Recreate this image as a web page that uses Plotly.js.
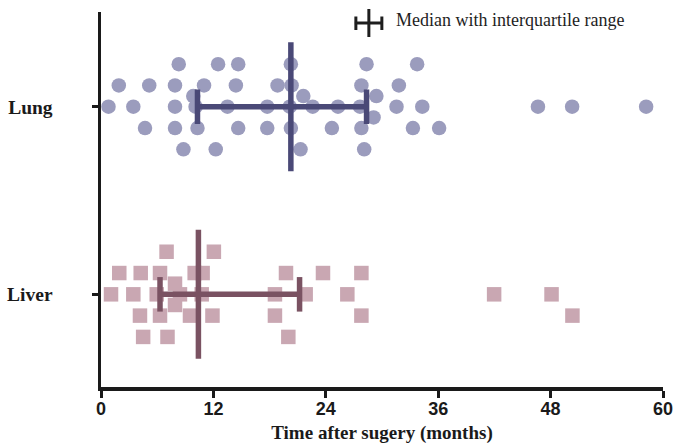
<!DOCTYPE html>
<html>
<head>
<meta charset="utf-8">
<script src="https://cdn.plot.ly/plotly-3.0.1.min.js"></script>
<style>html,body{margin:0;padding:0;background:#fff;}#chart{width:677px;height:446px;}</style>
</head>
<body>
<div id="chart"></div>
<script>
// ---- data ----
const categories = ['Lung', 'Liver'];
const xTicks = [0, 12, 24, 36, 48, 60];

// survival time (months) and swarm lane of each Lung case
const lungMonths = [
  8.3, 12.5, 14.65, 20.27, 28.35, 33.75,
  1.9, 5.15, 7.9, 11.0, 14.4, 18.85, 20.35, 27.8, 31.8,
  9.85, 21.6, 29.4,
  0.8, 3.45, 7.9, 10.1, 13.5, 17.75, 20.15, 22.6, 25.3, 27.65, 31.55, 34.3, 46.65, 50.3, 58.2,
  29.1,
  4.7, 7.9, 10.3, 14.65, 17.75, 20.27, 24.65, 27.8, 33.3, 36.1,
  8.8, 12.25, 21.3, 28.1
];
const lungLane = [
  2, 2, 2, 2, 2, 2,
  1, 1, 1, 1, 1, 1, 1, 1, 1,
  0.5, 0.5, 0.5,
  0, 0, 0, 0, 0, 0, 0, 0, 0, 0, 0, 0, 0, 0, 0,
  -0.5,
  -1, -1, -1, -1, -1, -1, -1, -1, -1, -1,
  -2, -2, -2, -2
];

// survival time (months) and swarm lane of each Liver case
const liverMonths = [
  7.0, 12.05,
  1.95, 4.24, 6.3, 10.0, 10.85, 19.75, 23.7, 27.8,
  7.9,
  1.07, 3.45, 5.95, 8.43, 10.75, 18.57, 21.85, 26.3, 41.97, 48.1,
  7.9,
  4.16, 6.3, 9.5, 11.9, 18.57, 27.8, 50.33,
  4.5, 7.1, 20.0
];
const liverLane = [
  2, 2,
  1, 1, 1, 1, 1, 1, 1, 1,
  0.5,
  0, 0, 0, 0, 0, 0, 0, 0, 0, 0,
  -0.5,
  -1, -1, -1, -1, -1, -1, -1,
  -2, -2, -2
];

// [Q1, median, Q3] in months
const lungIQR = [10.3, 20.27, 28.35];
const liverIQR = [6.3, 10.4, 21.2];

// ---- drawing ----
const catY = {};
categories.forEach((c, i) => { catY[c] = categories.length - i; });
const laneStep = 0.1135;
const medHalf = 0.344, capHalf = 0.092;

function swarm(months, lanes, cat, symbol, color) {
  return {
    type: 'scatter', mode: 'markers', showlegend: false, hoverinfo: 'x',
    x: months, y: lanes.map(l => catY[cat] + l * laneStep),
    marker: {symbol: symbol, size: 14.5, color: color, line: {width: 0}},
    cliponaxis: false
  };
}
function iqrTrace(q, cat, color) {
  const c = catY[cat];
  return {
    type: 'scatter', mode: 'lines', showlegend: false, hoverinfo: 'skip',
    x: [q[0], q[2], null, q[0], q[0], null, q[2], q[2], null, q[1], q[1]],
    y: [c, c, null, c - capHalf, c + capHalf, null, c - capHalf, c + capHalf, null, c - medHalf, c + medHalf],
    line: {color: color, width: 5.5},
    cliponaxis: false
  };
}

const traces = [
  swarm(lungMonths, lungLane, 'Lung', 'circle', '#9b9cbd'),
  swarm(liverMonths, liverLane, 'Liver', 'square', '#c9a7b2'),
  iqrTrace(lungIQR, 'Lung', '#4a4977'),
  iqrTrace(liverIQR, 'Liver', '#7a5262')
];

const plotL = 101, plotT = 12, plotW = 562.3, plotH = 375;
const px = v => (v - plotL) / plotW;
const py = v => 1 - (v - plotT) / plotH;
const iconColor = '#1e1e1e';

const layout = {
  width: 677, height: 446,
  margin: {l: 101, r: 14, t: 12, b: 59},
  paper_bgcolor: '#fff', plot_bgcolor: '#fff',
  showlegend: false,
  xaxis: {
    range: [0, 60], tickvals: xTicks, ticktext: xTicks.map(String),
    showline: true, linewidth: 3.5, linecolor: '#1a1a1a',
    ticks: 'outside', ticklen: 7, tickwidth: 3, tickcolor: '#1a1a1a',
    ticklabelstandoff: -4,
    showgrid: false, zeroline: false,
    tickfont: {family: 'Liberation Sans, Arial, sans-serif', size: 18, weight: 'bold', color: '#1a1a1a'},
    title: {text: 'Time after sugery (months)', standoff: 8,
      font: {family: 'Liberation Serif, Times New Roman, serif', size: 19, weight: 'bold', color: '#1a1a1a'}}
  },
  yaxis: {
    range: [0.506, 2.505], tickvals: categories.map(c => catY[c]), ticktext: categories,
    showline: true, linewidth: 3.5, linecolor: '#1a1a1a',
    ticks: 'outside', ticklen: 6, tickwidth: 3, tickcolor: '#1a1a1a',
    ticklabelstandoff: 35,
    showgrid: false, zeroline: false,
    tickfont: {family: 'Liberation Serif, Times New Roman, serif', size: 19.5, weight: 'bold', color: '#1a1a1a'}
  },
  shapes: [
    {type: 'line', xref: 'paper', yref: 'paper', x0: px(355), x1: px(383), y0: py(23), y1: py(23), line: {color: iconColor, width: 3}},
    {type: 'line', xref: 'paper', yref: 'paper', x0: px(356), x1: px(356), y0: py(16.5), y1: py(30), line: {color: iconColor, width: 3}},
    {type: 'line', xref: 'paper', yref: 'paper', x0: px(382), x1: px(382), y0: py(16.5), y1: py(30), line: {color: iconColor, width: 3}},
    {type: 'line', xref: 'paper', yref: 'paper', x0: px(369), x1: px(369), y0: py(9), y1: py(37), line: {color: iconColor, width: 3}}
  ],
  annotations: [
    {xref: 'paper', yref: 'paper', x: px(394), y: py(20), xanchor: 'left', yanchor: 'middle',
     showarrow: false, text: 'Median with interquartile range',
     font: {family: 'Liberation Serif, Times New Roman, serif', size: 18, color: '#1e1e1e'}}
  ]
};

Plotly.newPlot('chart', traces, layout, {displayModeBar: false, staticPlot: true});
</script>
</body>
</html>
